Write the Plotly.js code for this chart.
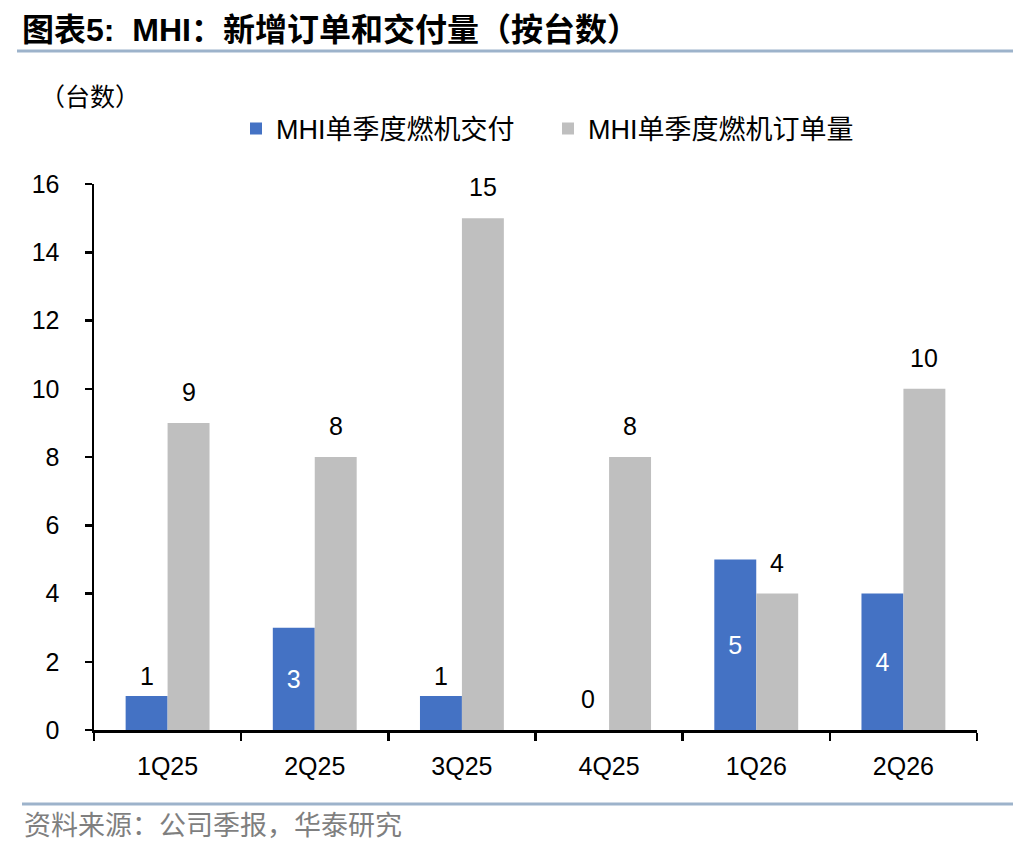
<!DOCTYPE html>
<html>
<head>
<meta charset="utf-8">
<script src="https://cdn.plot.ly/plotly-3.0.1.min.js"></script>
<style>
  body { margin: 0; background: #fff; }
  #chart { width: 1036px; height: 852px; }
</style>
</head>
<body>
<div id="chart"></div>
<script>
// data
var quarters = ["1Q25", "2Q25", "3Q25", "4Q25", "1Q26", "2Q26"];
var deliveries = [1, 3, 1, 0, 5, 4];
var orders = [9, 8, 15, 8, 4, 10];
var seriesNames = ["MHI单季度燃机交付", "MHI单季度燃机订单量"];

var W = 1036, H = 852;
var M = { l: 94, r: 59, t: 184, b: 122 };
var plotW = W - M.l - M.r, plotH = H - M.t - M.b;

// pixel -> paper helpers for the frame decorations
function px(x) { return (x - M.l) / plotW; }
function py(y) { return (H - M.b - y) / plotH; }

var numFont = "Liberation Sans, Arial, sans-serif";
var cjkFont = "Liberation Sans, Noto Sans CJK SC, sans-serif";
var blue = "#4472C4", grey = "#BFBFBF";

var data = [
  {
    type: "bar", name: seriesNames[0], x: quarters, y: deliveries,
    marker: { color: blue },
    text: deliveries.map(function(v) { return v >= 2 ? String(v) : ""; }),
    textposition: "inside", insidetextanchor: "middle",
    textfont: { family: numFont, size: 25, color: "#fff" },
    hoverinfo: "x+y"
  },
  {
    type: "bar", name: seriesNames[1], x: quarters, y: orders,
    marker: { color: grey },
    hoverinfo: "x+y"
  }
];

// labels sitting above the bars
var annos = [];
for (var i = 0; i < quarters.length; i++) {
  if (deliveries[i] < 2) {
    annos.push({
      x: quarters[i], y: deliveries[i], xref: "x", yref: "y",
      xshift: -21, yshift: deliveries[i] > 0 ? 4 : 15,
      yanchor: "bottom", showarrow: false, text: String(deliveries[i]),
      font: { family: numFont, size: 25, color: "#000" }
    });
  }
  annos.push({
    x: quarters[i], y: orders[i], xref: "x", yref: "y",
    xshift: 21, yshift: 15,
    yanchor: "bottom", showarrow: false, text: String(orders[i]),
    font: { family: numFont, size: 25, color: "#000" }
  });
}

annos.push({
  xref: "paper", yref: "paper", x: px(20), y: py(30),
  xanchor: "left", yanchor: "middle", showarrow: false,
  text: "<b>图表5:  MHI：新增订单和交付量（按台数）</b>",
  font: { family: "Liberation Sans, Noto Sans CJK SC, sans-serif", size: 32, color: "#000" }
});
annos.push({
  xref: "paper", yref: "paper", x: px(38), y: py(97),
  xanchor: "left", yanchor: "middle", showarrow: false,
  text: "（台数）",
  font: { family: cjkFont, size: 25, color: "#000" }
});
annos.push({
  xref: "paper", yref: "paper", x: px(22), y: py(826),
  xanchor: "left", yanchor: "middle", showarrow: false,
  text: "资料来源：公司季报，华泰研究",
  font: { family: cjkFont, size: 27, color: "#7f7f7f" }
});

var shapes = [
  { type: "line", xref: "paper", yref: "paper", x0: px(17), x1: px(1013), y0: py(51), y1: py(51),
    line: { color: "#9DB3CB", width: 3 } },
  { type: "line", xref: "paper", yref: "paper", x0: px(22), x1: px(1013), y0: py(804), y1: py(804),
    line: { color: "#9DB3CB", width: 3 } }
];

var layout = {
  width: W, height: H,
  margin: M,
  paper_bgcolor: "#fff", plot_bgcolor: "#fff",
  barmode: "group", bargap: 0.43, bargroupgap: 0,
  showlegend: true,
  legend: {
    orientation: "h", x: px(236), y: py(129), xanchor: "left", yanchor: "middle",
    font: { family: cjkFont, size: 27, color: "#000" },
    entrywidth: 267, entrywidthmode: "pixels", itemwidth: 30,
    traceorder: "normal"
  },
  xaxis: {
    type: "category", showline: true, linecolor: "#000", linewidth: 2.5,
    ticks: "outside", tickson: "boundaries", ticklen: 8, tickwidth: 2.5, tickcolor: "#000",
    tickfont: { family: numFont, size: 25, color: "#000" },
    ticklabelstandoff: 12,
    showgrid: false, zeroline: false, fixedrange: true
  },
  yaxis: {
    range: [0, 16], dtick: 2, showline: true, linecolor: "#000", linewidth: 2.5,
    ticks: "outside", ticklen: 7, tickwidth: 2.5, tickcolor: "#000",
    tickfont: { family: numFont, size: 25, color: "#000" },
    ticklabelstandoff: 20,
    showgrid: false, zeroline: false, fixedrange: true
  },
  annotations: annos,
  shapes: shapes
};

Plotly.newPlot("chart", data, layout, { displayModeBar: false, staticPlot: true });
</script>
</body>
</html>
